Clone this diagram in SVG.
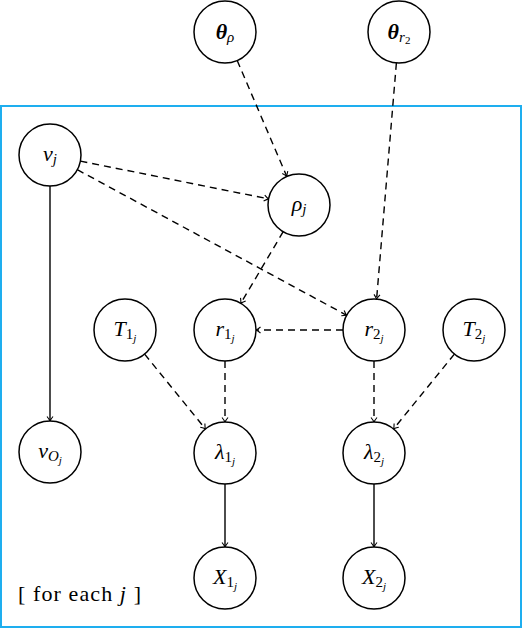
<svg xmlns="http://www.w3.org/2000/svg" width="524" height="630" viewBox="0 0 524 630">
<style>
.n{fill:#fff;stroke:#000;stroke-width:1.5}
.m{font-family:"Liberation Serif","Times New Roman",serif;font-size:22px;text-anchor:middle;fill:#000}
.i{font-style:italic}
.b{font-weight:bold}
.s{font-size:15px}
.ss{font-size:11px}
.e{fill:none;stroke:#000;stroke-width:1.4}
.d{stroke-dasharray:7 5}
</style>
<defs>
<marker id="a" viewBox="-6 -4 8 8" refX="0" refY="0" markerWidth="8" markerHeight="8" markerUnits="userSpaceOnUse" orient="auto">
<path d="M-4.5,-3 Q-1.5,-0.6 0,0 Q-1.5,0.6 -4.5,3" fill="none" stroke="#000" stroke-width="1.1"/>
</marker>
</defs>
<rect x="1" y="106" width="520" height="521" fill="none" stroke="#1eaeef" stroke-width="2"/>
<g id="connectors">
<line class="e d" x1="237.2" y1="60.5" x2="286.8" y2="176.5" marker-end="url(#a)"/>
<line class="e d" x1="396.4" y1="62.9" x2="376.6" y2="299.1" marker-end="url(#a)"/>
<line class="e d" x1="80.4" y1="161.1" x2="268.6" y2="198.9" marker-end="url(#a)"/>
<line class="e d" x1="77.3" y1="169.7" x2="346.7" y2="315.3" marker-end="url(#a)"/>
<line class="e" x1="50" y1="186" x2="50" y2="421" marker-end="url(#a)"/>
<line class="e d" x1="283.2" y1="231.7" x2="240.8" y2="303.3" marker-end="url(#a)"/>
<line class="e d" x1="343" y1="330" x2="256" y2="330" marker-end="url(#a)"/>
<line class="e d" x1="144.6" y1="354.1" x2="205.4" y2="428.9" marker-end="url(#a)"/>
<line class="e d" x1="225" y1="361" x2="225" y2="422" marker-end="url(#a)"/>
<line class="e d" x1="374" y1="361" x2="374" y2="422" marker-end="url(#a)"/>
<line class="e d" x1="454.4" y1="354.1" x2="393.6" y2="428.9" marker-end="url(#a)"/>
<line class="e" x1="225" y1="484" x2="225" y2="547" marker-end="url(#a)"/>
<line class="e" x1="374" y1="484" x2="374" y2="547" marker-end="url(#a)"/>
</g>
<g id="theta_rho"><circle class="n" cx="225" cy="32" r="31"/><text class="m" x="225" y="39"><tspan class="i b">θ</tspan><tspan class="s i" dy="3">ρ</tspan></text></g>
<g id="theta_r2"><circle class="n" cx="399" cy="32" r="31"/><text class="m" x="399" y="39"><tspan class="i b">θ</tspan><tspan class="s i" dy="3">r</tspan><tspan class="ss" dy="2">2</tspan></text></g>
<g id="v_j"><circle class="n" cx="50" cy="155" r="31"/><text class="m" x="50" y="161"><tspan class="i">v</tspan><tspan class="s i" dy="3">j</tspan></text></g>
<g id="rho_j"><circle class="n" cx="299" cy="205" r="31"/><text class="m" x="299" y="211"><tspan class="i">ρ</tspan><tspan class="s i" dy="3">j</tspan></text></g>
<g id="T1"><circle class="n" cx="125" cy="330" r="31"/><text class="m" x="125" y="336"><tspan class="i">T</tspan><tspan class="s" dy="3">1</tspan><tspan class="ss i" dy="3">j</tspan></text></g>
<g id="r1"><circle class="n" cx="225" cy="330" r="31"/><text class="m" x="225" y="336"><tspan class="i">r</tspan><tspan class="s" dy="3">1</tspan><tspan class="ss i" dy="3">j</tspan></text></g>
<g id="r2"><circle class="n" cx="374" cy="330" r="31"/><text class="m" x="374" y="336"><tspan class="i">r</tspan><tspan class="s" dy="3">2</tspan><tspan class="ss i" dy="3">j</tspan></text></g>
<g id="T2"><circle class="n" cx="474" cy="330" r="31"/><text class="m" x="474" y="336"><tspan class="i">T</tspan><tspan class="s" dy="3">2</tspan><tspan class="ss i" dy="3">j</tspan></text></g>
<g id="v_O"><circle class="n" cx="50" cy="452" r="31"/><text class="m" x="50" y="458"><tspan class="i">v</tspan><tspan class="s i" dy="3">O</tspan><tspan class="ss i" dy="3">j</tspan></text></g>
<g id="lambda1"><circle class="n" cx="225" cy="453" r="31"/><text class="m" x="225" y="459"><tspan class="i">λ</tspan><tspan class="s" dy="3">1</tspan><tspan class="ss i" dy="3">j</tspan></text></g>
<g id="lambda2"><circle class="n" cx="374" cy="453" r="31"/><text class="m" x="374" y="459"><tspan class="i">λ</tspan><tspan class="s" dy="3">2</tspan><tspan class="ss i" dy="3">j</tspan></text></g>
<g id="X1"><circle class="n" cx="225" cy="578" r="31"/><text class="m" x="225" y="584"><tspan class="i">X</tspan><tspan class="s" dy="3">1</tspan><tspan class="ss i" dy="3">j</tspan></text></g>
<g id="X2"><circle class="n" cx="374" cy="578" r="31"/><text class="m" x="374" y="584"><tspan class="i">X</tspan><tspan class="s" dy="3">2</tspan><tspan class="ss i" dy="3">j</tspan></text></g>
<g id="label"><text x="18" y="601" font-family="'Liberation Serif','Times New Roman',serif" font-size="22" fill="#000" textLength="123" lengthAdjust="spacing">[ for each <tspan font-style="italic">j</tspan> ]</text></g>
</svg>
